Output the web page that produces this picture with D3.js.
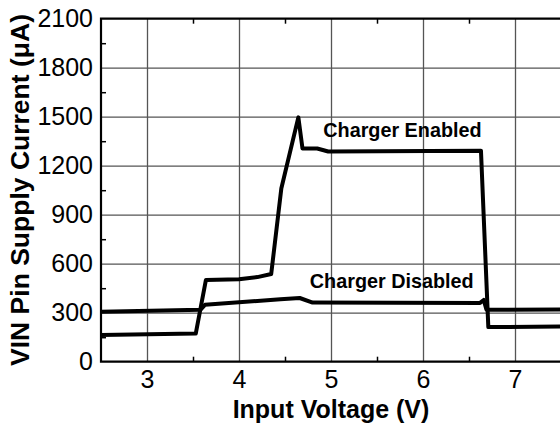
<!DOCTYPE html>
<html>
<head>
<meta charset="utf-8">
<script src="https://cdn.jsdelivr.net/npm/d3@7"></script>
<style>
  body { margin: 0; background: #fff; }
  text { font-family: "Liberation Sans", Arial, sans-serif; fill: #000; }
</style>
</head>
<body>
<div id="chart"></div>
<script>
// input voltage (V) / supply current (uA)
var voltEnabled = [2.5, 3.53, 3.64, 4.0, 4.2, 4.35, 4.46, 4.645, 4.69, 4.85, 4.97, 6.63, 6.71, 7.5];
var currentEnabled = [163, 172, 500, 505, 518, 537, 1060, 1496, 1305, 1305, 1287, 1292, 212, 215];

var voltDisabled = [2.5, 3.58, 3.63, 4.45, 4.66, 4.8, 6.62, 6.66, 6.69, 7.5];
var currentDisabled = [306, 318, 348, 382, 390, 362, 360, 378, 318, 320];

var xTicks = [3, 4, 5, 6, 7];
var xMinor = [3.5, 4.5, 5.5, 6.5];
var yTicks = [0, 300, 600, 900, 1200, 1500, 1800, 2100];
var yMinor = [150, 450, 750, 1050, 1350, 1650, 1950];

var seriesNames = ["Charger Enabled", "Charger Disabled"];

var margin = {top: 18.7, right: -1, bottom: 64.3, left: 101},
    width = 560 - margin.left - margin.right,
    height = 426 - margin.top - margin.bottom;

var svg = d3.select("#chart")
    .append("svg")
    .attr("width", 560)
    .attr("height", 426)
    .append("g")
    .attr("transform", "translate(" + margin.left + "," + margin.top + ")");

var x = d3.scaleLinear().domain([2.5, 7.5]).range([0, width]);
var y = d3.scaleLinear().domain([0, 2100]).range([height, 0]);

// grid
svg.append("g")
    .attr("transform", "translate(0," + height + ")")
    .call(d3.axisBottom(x).tickValues(xTicks).tickSize(-height).tickFormat(""))
    .call(function(g) {
        g.select(".domain").remove();
        g.selectAll("line").attr("stroke", "#555").attr("stroke-width", 1.3);
    });
svg.append("g")
    .call(d3.axisLeft(y).tickValues(yTicks.slice(1, -1)).tickSize(-width).tickFormat(""))
    .call(function(g) {
        g.select(".domain").remove();
        g.selectAll("line").attr("stroke", "#555").attr("stroke-width", 1.3);
    });

// minor ticks (inward)
svg.append("g")
    .attr("transform", "translate(0," + height + ")")
    .call(d3.axisBottom(x).tickValues(xMinor).tickSize(-5).tickFormat(""))
    .call(function(g) { g.select(".domain").remove(); g.selectAll("line").attr("stroke-width", 1.5); });
svg.append("g")
    .call(d3.axisTop(x).tickValues(xMinor).tickSize(-5).tickFormat(""))
    .call(function(g) { g.select(".domain").remove(); g.selectAll("line").attr("stroke-width", 1.5); });
svg.append("g")
    .call(d3.axisLeft(y).tickValues(yMinor).tickSize(-5).tickFormat(""))
    .call(function(g) { g.select(".domain").remove(); g.selectAll("line").attr("stroke-width", 1.5); });

// tick labels
svg.append("g")
    .attr("transform", "translate(0," + height + ")")
    .call(d3.axisBottom(x).tickValues(xTicks).tickSize(0).tickPadding(9).tickFormat(d3.format("d")))
    .call(function(g) {
        g.select(".domain").remove();
        g.selectAll("text").style("font-size", "25px").attr("fill", "#000");
    });
svg.append("g")
    .call(d3.axisLeft(y).tickValues(yTicks).tickSize(0).tickPadding(8).tickFormat(d3.format("d")))
    .call(function(g) {
        g.select(".domain").remove();
        g.selectAll("text").style("font-size", "25px").attr("fill", "#000");
    });

// frame (right side runs off the page)
svg.append("path")
    .attr("fill", "none")
    .attr("stroke", "#000")
    .attr("stroke-width", 2.2)
    .attr("d", "M" + (width + 2) + ",0H0V" + height + "H" + (width + 2));

// curves
var line = d3.line()
    .x(function(d) { return x(d[0]) })
    .y(function(d) { return y(d[1]) });

svg.append("path")
    .datum(d3.zip(voltDisabled, currentDisabled))
    .attr("fill", "none")
    .attr("stroke", "#000")
    .attr("stroke-width", 4)
    .attr("stroke-linejoin", "round")
    .attr("d", line);

svg.append("path")
    .datum(d3.zip(voltEnabled, currentEnabled))
    .attr("fill", "none")
    .attr("stroke", "#000")
    .attr("stroke-width", 4)
    .attr("stroke-linejoin", "round")
    .attr("d", line);

// series labels
svg.append("text")
    .attr("x", x(4.916))
    .attr("y", y(1374))
    .style("font-size", "19.8px")
    .style("font-weight", "bold")
    .text(seriesNames[0]);

svg.append("text")
    .attr("x", x(4.77))
    .attr("y", y(449))
    .style("font-size", "19.8px")
    .style("font-weight", "bold")
    .text(seriesNames[1]);

// axis titles
svg.append("text")
    .attr("x", x(5))
    .attr("y", height + 56.5)
    .attr("text-anchor", "middle")
    .style("font-size", "25px")
    .style("font-weight", "bold")
    .text("Input Voltage (V)");

svg.append("text")
    .attr("transform", "rotate(-90)")
    .attr("x", -(190 - margin.top))
    .attr("y", 29 - margin.left)
    .attr("text-anchor", "middle")
    .style("font-size", "26.5px")
    .style("font-weight", "bold")
    .text("VIN Pin Supply Current (\u03bcA)");
</script>
</body>
</html>
